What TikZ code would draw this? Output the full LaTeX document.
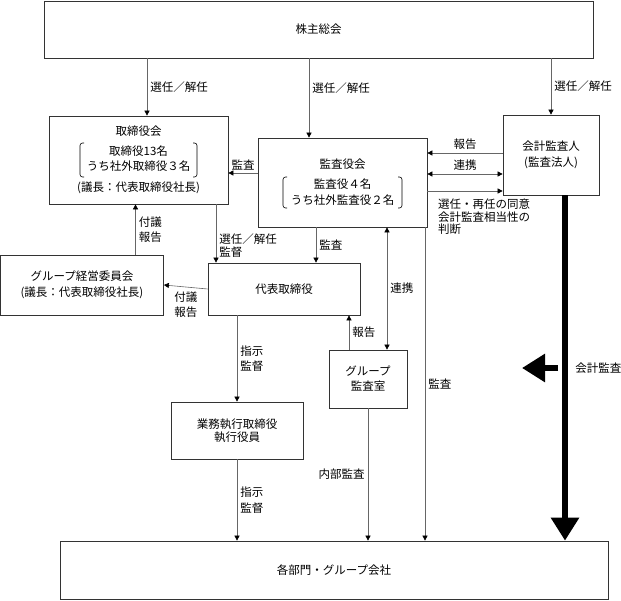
\documentclass[tikz,border=0pt]{standalone}
\usepackage{fontspec}
\setmainfont{Noto Sans CJK JP}
\usetikzlibrary{arrows.meta}
\usetikzlibrary{calc}
\tikzstyle{box}=[draw=black!80,line width=.7pt,align=center,inner sep=0pt]
\tikzstyle{rwhead}=[>/.tip={Triangle[length=5pt,width=5pt,color=black]}]
\tikzstyle{rw} =[draw=black!60,line width=.6pt,rwhead,->]
\tikzstyle{rwd}=[rw,<->]
\tikzstyle{rwbig}=[line width=6.5pt,-{Triangle[length=23pt,width=27pt]}]
\tikzstyle{brk}=[line width=.6pt,rounded corners=2.5pt]
\tikzstyle{lbl}=[align=left,inner sep=3pt]
% brackets round the member lines: node, half width, y offset, half height
\newcommand\brackets[4]{%
  \draw[brk] ([shift={(-#2+4,#3+#4)}]#1) -- ++(-4,0) -- ++(0,{-2*#4}) -- ++(4,0);
  \draw[brk] ([shift={(#2-4,#3+#4)}]#1) -- ++(4,0) -- ++(0,{-2*#4}) -- ++(-4,0);}
\begin{document}
\begin{tikzpicture}[x=1pt,y=1pt,font=\fontsize{11.5}{14.5}\selectfont]
	\useasboundingbox (0,0) rectangle (621,600);
	\node[box,minimum width=549pt,minimum height=57pt] (soukai) at (318.5,570.5) {株主総会};
	\node[box,minimum width=179pt,minimum height=88pt] (tori) at (138.5,440)
		{取締役会\\[6pt]取締役13名\\うち社外取締役３名\\[7pt](議長：代表取締役社長)};
	\node[box,minimum width=169pt,minimum height=89pt] (kansa) at (342.5,417.5)
		{監査役会\\[5pt]監査役４名\\[2pt]うち社外監査役２名};
	\node[box,minimum width=96pt,minimum height=80pt] (kaikei) at (551,445) {会計監査人\\[2pt](監査法人)};
	\node[box,minimum width=163pt,minimum height=60pt] (group) at (82,315)
		{グループ経営委員会\\[1.5pt](議長：代表取締役社長)};
	\node[box,minimum width=152pt,minimum height=52pt] (daihyo) at (284,311) {代表取締役};
	\node[box,minimum width=132pt,minimum height=57pt] (gyomu) at (237,169.5) {業務執行取締役\\[-1.5pt]執行役員};
	\node[box,minimum width=78pt,minimum height=58pt] (gkansa) at (368,221) {グループ\\[.5pt]監査室};
	\node[box,minimum width=548pt,minimum height=58pt] (bumon) at (334,30) {各部門・グループ会社};
	\brackets{tori.center}{58.5}{0}{17}
	\brackets{kansa.center}{59.5}{-10}{15.5}
	% end points on the box sides
	\coordinate (a1) at ([xshift=8.5pt]tori.north);
	\coordinate (a2) at ([xshift=-33.5pt]kansa.north);
	\coordinate (b1) at ([yshift=2pt]kaikei.west);
	\coordinate (b2) at ([yshift=-19pt]kaikei.west);
	\coordinate (b3) at ([yshift=-36pt]kaikei.west);
	\coordinate (c1) at ([yshift=9.5pt]kansa.west);
	\coordinate (d1) at ([xshift=-68pt]daihyo.north);
	\coordinate (d2) at ([xshift=-26.5pt]kansa.south);
	\coordinate (e1) at ([xshift=53.5pt]group.north);
	\coordinate (f1) at ([xshift=-19pt]gkansa.north);
	\coordinate (f2) at ([xshift=19pt]gkansa.north);
	\coordinate (g1) at ([xshift=82.5pt]kansa.south);
	\coordinate (h1) at ([xshift=14pt]kaikei.south);
	\draw[rw] (soukai.south -| a1) --node[right,lbl]{選任／解任} (a1);
	\draw[rw] (soukai.south -| a2) --node[pos=.37,right,lbl]{選任／解任} (a2);
	\draw[rw] (soukai.south -| kaikei.north) --node[right,lbl]{選任／解任} (kaikei.north);
	\draw[rw] (b1) --node[above,lbl]{報告} (kansa.east |- b1);
	\draw[rwd] (b2) --node[above,lbl]{連携} (kansa.east |- b2);
	\draw[rw] (kansa.east |- b3) --node[pos=.1,below right,lbl,yshift=-5pt,font=\fontsize{11.5}{12.5}\selectfont]
		{選任・再任の同意\\会計監査相当性の\\判断} (b3);
	\draw[rw] (c1) --node[above,lbl]{監査} (tori.east |- c1);
	\draw[rw] (tori.south -| d1) --node[pos=.7,right,lbl]{選任／解任\\[-1.5pt]監督} (d1);
	\draw[rw] (d2) --node[right,lbl]{監査} (daihyo.north -| d2);
	\draw[rw] (e1) --node[right,lbl]{付議\\報告} (tori.south -| e1);
	\draw[rw] (daihyo.west) --node[below,lbl,yshift=-2pt]{付議\\報告} (group.east);
	\draw[rw] (daihyo.south -| gyomu.north) --node[right,lbl]{指示\\監督} (gyomu.north);
	\draw[rw] (gyomu.south) --node[right,lbl]{指示\\[1pt]監督} (bumon.north -| gyomu.south);
	\draw[rw] (f1) --node[right,lbl]{報告} (daihyo.south -| f1);
	\draw[rwd] (kansa.south -| f2) --node[right,lbl]{連携} (f2);
	\draw[rw] (gkansa.south) --node[left,lbl]{内部監査} (bumon.north -| gkansa.south);
	\draw[rw] (g1) --node[right,lbl]{監査} (bumon.north -| g1);
	\draw[rwbig] (h1) --node[right,lbl,xshift=4pt]{会計監査} (bumon.north -| h1);
	% block arrow beside the audit line
	\draw[rwbig] (558,232) -- (522,232);
\end{tikzpicture}
\end{document}
